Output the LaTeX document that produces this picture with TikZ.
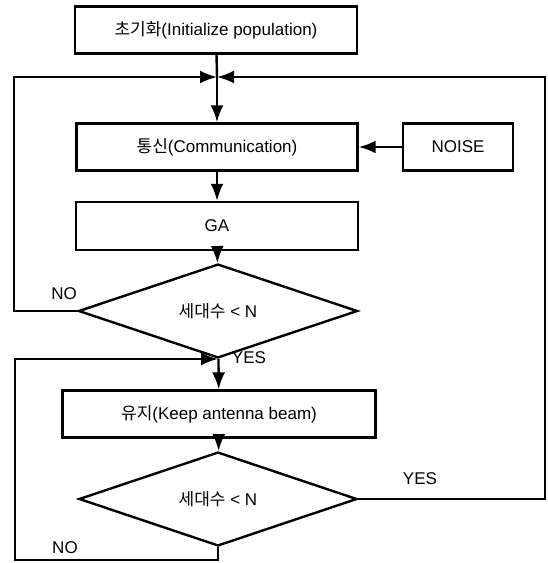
\documentclass[tikz,border=0pt]{standalone}
\usepackage{fontspec}
\setmainfont{Liberation Sans}
\newfontfamily\kr{Noto Sans CJK KR}
\usetikzlibrary{
    arrows.meta,
    shapes.geometric,
    positioning
}
\tikzset{
    box/.style={draw, line width=2.4pt, inner sep=0pt, minimum height=47pt},
    decision/.style={draw, diamond, line width=2.4pt, inner sep=0pt, minimum width=279pt, minimum height=62pt},
    lbl/.style={inner sep=0pt},
    flow/.style={line width=2.4pt, -{Latex[length=17pt,width=13pt]}}
}

\begin{document}
\begin{tikzpicture}[x=1pt, y=-1pt, font=\fontsize{17}{20}\selectfont]
                        \useasboundingbox (0, 0) rectangle (548, 563);

                        \node[box, minimum width=282pt] (init) at (216, 30) {{\kr 초기화}(Initialize population)};
                        \node[box, minimum width=281pt] (comm) at (217, 147) {{\kr 통신}(Communication)};
                        \node[box, minimum width=110pt] (noise) at (458, 147) {NOISE};
                        \node[box, minimum width=282pt, minimum height=48pt] (ga) at (217, 226) {GA};
                        \node[decision] (chk1) at (218, 311) {{\kr 세대수} < N};
                        \node[box, minimum width=313pt] (keep) at (219, 414) {{\kr 유지}(Keep antenna beam)};
                        \node[decision, minimum width=278pt] (chk2) at (218, 499) {{\kr 세대수} < N};

                        \coordinate (j) at (217, 77);
                        \coordinate (lt) at (14, 77);
                        \coordinate (rt) at (545, 77);
                        \coordinate (lb) at (15, 560);
                        \coordinate (ym) at (218, 359);

                        \node[lbl] (no1) at (64, 294) {NO};
                        \node[lbl] (yes1) at (249, 358) {YES};
                        \node[lbl] (yes2) at (420, 479) {YES};
                        \node[lbl] (no2) at (65, 548) {NO};

                        \draw[line width=2.4pt] (init) -- (j);
                        \draw[flow] (j) -- (comm);
                        \draw[flow] (noise) -- (comm);
                        \draw[flow] (comm) -- (ga);
                        \draw[flow] (ga) -- (chk1);
                        \draw[flow] (chk1) -- (keep);
                        \draw[flow] (keep) -- (chk2);
                        \draw[flow] (chk1.west) -| (lt) -- (j);
                        \draw[flow] (chk2.east) -| (rt) -- (j);
                        \draw[flow] (chk2.south) |- (lb) |- (ym);
                    \end{tikzpicture}
\end{document}
